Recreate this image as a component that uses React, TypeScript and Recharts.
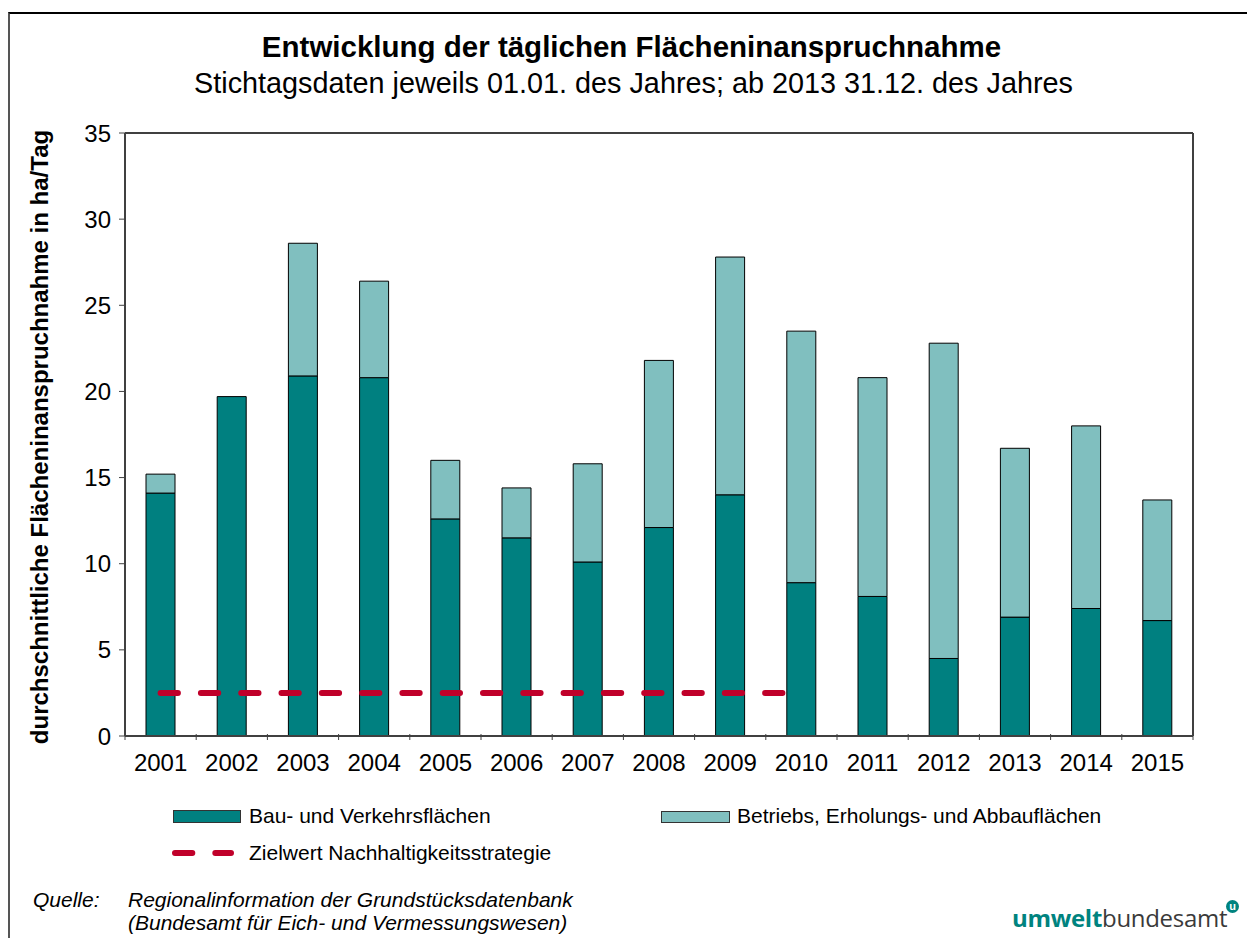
import React from "react";
import { ComposedChart, Bar, Line, XAxis, YAxis, ReferenceLine } from "recharts";

// values (ha/Tag)
const years = ["2001", "2002", "2003", "2004", "2005", "2006", "2007", "2008", "2009", "2010", "2011", "2012", "2013", "2014", "2015"];
const bauVerkehr = [14.1, 19.7, 20.9, 20.8, 12.6, 11.5, 10.1, 12.1, 14.0, 8.9, 8.1, 4.5, 6.9, 7.4, 6.7];
const betriebErholung = [1.1, 0, 7.7, 5.6, 3.4, 2.9, 5.7, 9.7, 13.8, 14.6, 12.7, 18.3, 9.8, 10.6, 7.0];
const zielwert = [2.5, 2.5, 2.5, 2.5, 2.5, 2.5, 2.5, 2.5, 2.5, 2.5, null, null, null, null, null];
const yTicks = [0, 5, 10, 15, 20, 25, 30, 35];

const rows = years.map((year, i) => ({
  year,
  bau: bauVerkehr[i],
  betrieb: betriebErholung[i],
  ziel: zielwert[i],
}));

const FONT = '"Liberation Sans", Arial, sans-serif';
const DARK = "#008080";
const LIGHT = "#80BFBF";
const RED = "#C0002A";
const AXIS = "#404040";
const DASH = "17.3 23";

const CHART_W = 1247;
const CHART_H = 800;
const MARGIN = { top: 133, right: 10, bottom: 24, left: 65 };
const LEFT_AXIS_W = 60;
const RIGHT_AXIS_W = 44;
const PLOT_W = CHART_W - MARGIN.left - MARGIN.right - LEFT_AXIS_W - RIGHT_AXIS_W;
const BAND = PLOT_W / years.length;

// year label plus tick marks at the category boundaries
function YearTick(props: any) {
  const { x, y, payload, index } = props;
  const half = BAND / 2;
  return (
    <g>
      <line x1={x - half} x2={x - half} y1={y - 10} y2={y - 4} stroke={AXIS} />
      {index === years.length - 1 && (
        <line x1={x + half} x2={x + half} y1={y - 10} y2={y - 4} stroke={AXIS} />
      )}
      <text x={x} y={y + 27} textAnchor="middle" fontSize={24} fill="#000" fontFamily={FONT}>
        {payload.value}
      </text>
    </g>
  );
}

export default function App() {
  const tickStyle = { fontSize: 24, fill: "#000", fontFamily: FONT };
  const legendText = { position: "absolute" as const, fontSize: 21, color: "#000", whiteSpace: "nowrap" as const };
  return (
    <div style={{ position: "absolute", left: 0, top: 0, width: 1247, height: 938, background: "#fff", fontFamily: FONT, overflow: "hidden" }}>
      {/* frame */}
      <div style={{ position: "absolute", left: 8, top: 12, width: 1260, height: 940, borderLeft: "2px solid #555", borderTop: "2px solid #000" }} />

      <div style={{ position: "absolute", left: 0, top: 30, width: 1263, textAlign: "center", fontSize: 29.5, fontWeight: "bold", color: "#000", whiteSpace: "nowrap" }}>
        Entwicklung der täglichen Flächeninanspruchnahme
      </div>
      <div style={{ position: "absolute", left: 0, top: 67, width: 1267, textAlign: "center", fontSize: 28.8, color: "#000", whiteSpace: "nowrap" }}>
        Stichtagsdaten jeweils 01.01. des Jahres; ab 2013 31.12. des Jahres
      </div>

      <div style={{ position: "absolute", left: 0, top: 0 }}>
        <ComposedChart width={CHART_W} height={CHART_H} data={rows} margin={MARGIN}>
          <XAxis
            dataKey="year"
            axisLine={{ stroke: AXIS, strokeWidth: 2 }}
            tickLine={false}
            tick={<YearTick />}
            interval={0}
            height={40}
          />
          <YAxis
            yAxisId="left"
            domain={[0, 35]}
            ticks={yTicks}
            width={LEFT_AXIS_W}
            axisLine={{ stroke: AXIS, strokeWidth: 2 }}
            tickLine={{ stroke: AXIS }}
            tickSize={6}
            tickMargin={8}
            tick={tickStyle}
            interval={0}
          />
          <YAxis
            yAxisId="right"
            orientation="right"
            domain={[0, 35]}
            ticks={yTicks}
            width={RIGHT_AXIS_W}
            axisLine={{ stroke: AXIS, strokeWidth: 2 }}
            tickLine={{ stroke: AXIS }}
            tickSize={7}
            tickMargin={13}
            tick={{ ...tickStyle, textAnchor: "start" }}
            interval={0}
          />
          <ReferenceLine yAxisId="left" y={35} stroke={AXIS} strokeWidth={2} />
          <Bar yAxisId="left" dataKey="bau" stackId="a" fill={DARK} stroke="#000" strokeWidth={1} barSize={29} isAnimationActive={false} />
          <Bar yAxisId="left" dataKey="betrieb" stackId="a" fill={LIGHT} stroke="#000" strokeWidth={1} barSize={29} isAnimationActive={false} />
          <Line
            yAxisId="left"
            dataKey="ziel"
            stroke={RED}
            strokeWidth={6}
            strokeDasharray={DASH}
            strokeLinecap="round"
            dot={false}
            activeDot={false}
            connectNulls={false}
            isAnimationActive={false}
          />
        </ComposedChart>
      </div>

      {/* y axis title */}
      <div
        style={{
          position: "absolute",
          left: 40,
          top: 437,
          transform: "translate(-50%, -50%) rotate(-90deg)",
          whiteSpace: "nowrap",
          fontSize: 24,
          fontWeight: "bold",
          color: "#000",
        }}
      >
        durchschnittliche Flächeninanspruchnahme in ha/Tag
      </div>

      {/* legend */}
      <div style={{ position: "absolute", left: 173, top: 810, width: 66, height: 11, background: DARK, border: "1px solid #333" }} />
      <div style={{ ...legendText, left: 249, top: 804 }}>Bau- und Verkehrsflächen</div>
      <div style={{ position: "absolute", left: 661, top: 811, width: 67, height: 10, background: LIGHT, border: "1px solid #333" }} />
      <div style={{ ...legendText, left: 737, top: 804 }}>Betriebs, Erholungs- und Abbauflächen</div>
      <svg style={{ position: "absolute", left: 165, top: 845 }} width={80} height={16}>
        <line x1={10} x2={66} y1={8} y2={8} stroke={RED} strokeWidth={6} strokeDasharray={DASH} strokeLinecap="round" />
      </svg>
      <div style={{ ...legendText, left: 249, top: 841 }}>Zielwert Nachhaltigkeitsstrategie</div>

      {/* source */}
      <div style={{ position: "absolute", left: 33, top: 888, fontSize: 21, fontStyle: "italic", color: "#000", lineHeight: "23px" }}>Quelle:</div>
      <div style={{ position: "absolute", left: 128, top: 888, fontSize: 21, fontStyle: "italic", color: "#000", lineHeight: "23px", whiteSpace: "nowrap" }}>
        Regionalinformation der Grundstücksdatenbank
        <br />
        (Bundesamt für Eich- und Vermessungswesen)
      </div>

      {/* logo */}
      <div style={{ position: "absolute", left: 1012, top: 901, fontSize: 24, fontFamily: '"Open Sans", sans-serif', whiteSpace: "nowrap", letterSpacing: -0.3 }}>
        <span style={{ color: "#00837F", fontWeight: "bold" }}>umwelt</span>
        <span style={{ color: "#3a3a3a" }}>bundesamt</span>
      </div>
      <div
        style={{
          position: "absolute",
          left: 1226,
          top: 900,
          width: 13,
          height: 13,
          borderRadius: "50%",
          background: "#00837F",
          color: "#fff",
          fontSize: 11,
          fontWeight: "bold",
          lineHeight: "12px",
          textAlign: "center",
        }}
      >
        u
      </div>
    </div>
  );
}
